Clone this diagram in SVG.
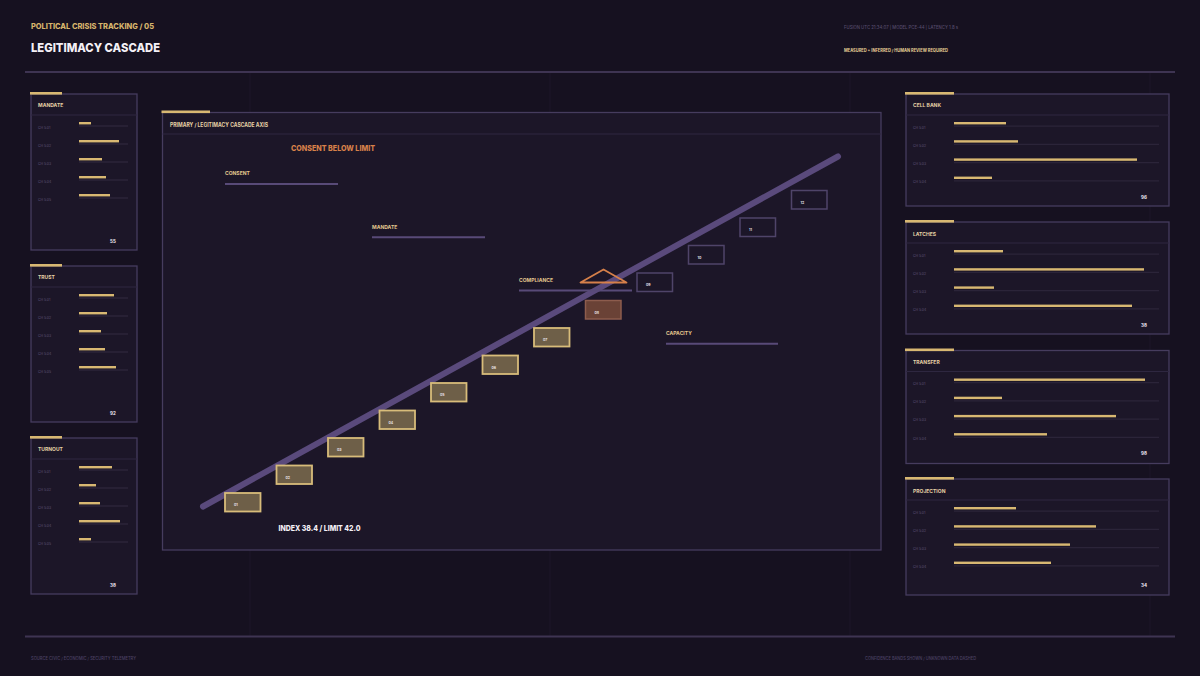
<svg xmlns="http://www.w3.org/2000/svg" width="1200" height="676" viewBox="0 0 1200 676">
<defs>
<style>
.bg{fill:#161120}
.panel{fill:#1c1628;stroke:#463c5e;stroke-width:1.3}
.sep{stroke:#2e2740;stroke-width:1}
.acc{fill:#d8b872}
.ph{font-family:Inter,"Liberation Sans",sans-serif;font-weight:700;font-size:5px;fill:#e6d2a6}
.rl{font-family:Inter,"Liberation Sans",sans-serif;font-weight:500;font-size:3.4px;fill:#54496a}
.num{font-family:Inter,"Liberation Sans",sans-serif;font-weight:700;font-size:4.5px;fill:#f2ecf6}
.trk{stroke:#2b2439;stroke-width:1.3}
.bar{fill:#d8b872}
.grid{stroke:#1d1729;stroke-width:1}
.lbl{font-family:Inter,"Liberation Sans",sans-serif;font-weight:700;font-size:5px;fill:#e3c88e}
.lline{stroke:#584a78;stroke-width:2}
.boxa{fill:#6e5f48;stroke:#d8bc7a;stroke-width:1.8}
.boxw{fill:#6a4236;stroke:#8d5c4d;stroke-width:1.5}
.boxe{fill:#1c1628;stroke:#4f4469;stroke-width:1.5}
.bl{font-family:Inter,"Liberation Sans",sans-serif;font-weight:600;font-size:3.6px;fill:#f0e8f0}
</style>
</defs>
<rect class="bg" x="0" y="0" width="1200" height="676"/>
<g id="grid">
<line class="grid" x1="250" y1="73" x2="250" y2="636"/>
<line class="grid" x1="550" y1="73" x2="550" y2="636"/>
<line class="grid" x1="850" y1="73" x2="850" y2="636"/>
<line class="grid" x1="1150" y1="73" x2="1150" y2="636"/>
</g>
<g id="header">
<text x="31" y="29" font-family="Inter,'Liberation Sans',sans-serif" font-weight="800" font-size="7.5" fill="#d6b46c" textLength="123" lengthAdjust="spacingAndGlyphs">POLITICAL CRISIS TRACKING / 05</text>
<text x="31" y="51.5" font-family="Inter,'Liberation Sans',sans-serif" font-weight="800" font-size="12" fill="#f4f0f6" textLength="129" lengthAdjust="spacingAndGlyphs">LEGITIMACY CASCADE</text>
<text x="844" y="29" font-family="Inter,'Liberation Sans',sans-serif" font-weight="500" font-size="4.3" fill="#564c6c" textLength="114" lengthAdjust="spacingAndGlyphs">FUSION UTC 21:34:07 | MODEL PCE-44 | LATENCY 1.8 s</text>
<text x="844" y="51.5" font-family="Inter,'Liberation Sans',sans-serif" font-weight="700" font-size="4.3" fill="#e6cf96" textLength="104" lengthAdjust="spacingAndGlyphs">MEASURED + INFERRED / HUMAN REVIEW REQUIRED</text>
<line x1="25" y1="72" x2="1175" y2="72" stroke="#3e3452" stroke-width="1.8"/>
</g>
<g id="footer">
<line x1="25" y1="636.5" x2="1175" y2="636.5" stroke="#3e3452" stroke-width="1.8"/>
<text x="31" y="660" font-family="Inter,'Liberation Sans',sans-serif" font-weight="500" font-size="4.2" fill="#4c4264" textLength="105" lengthAdjust="spacingAndGlyphs">SOURCE CIVIC / ECONOMIC / SECURITY TELEMETRY</text>
<text x="865" y="660" font-family="Inter,'Liberation Sans',sans-serif" font-weight="500" font-size="4.2" fill="#4c4264" textLength="111" lengthAdjust="spacingAndGlyphs">CONFIDENCE BANDS SHOWN / UNKNOWN DATA DASHED</text>
</g>

<!-- Left panels -->
<g id="panel-mandate">
<rect class="panel" x="31" y="94" width="106" height="156"/>
<rect class="acc" x="30" y="92" width="32" height="2.6"/>
<line class="sep" x1="31" y1="115" x2="137" y2="115"/>
<text class="ph" x="38" y="107">MANDATE</text>
<text class="rl" x="38" y="129">CH 5.01</text><line class="trk" x1="79" y1="126" x2="128" y2="126"/><rect class="bar" x="79" y="122" width="12" height="2.4"/>
<text class="rl" x="38" y="147">CH 5.02</text><line class="trk" x1="79" y1="144" x2="128" y2="144"/><rect class="bar" x="79" y="140" width="40" height="2.4"/>
<text class="rl" x="38" y="165">CH 5.03</text><line class="trk" x1="79" y1="162" x2="128" y2="162"/><rect class="bar" x="79" y="158" width="23" height="2.4"/>
<text class="rl" x="38" y="183">CH 5.04</text><line class="trk" x1="79" y1="180" x2="128" y2="180"/><rect class="bar" x="79" y="176" width="27" height="2.4"/>
<text class="rl" x="38" y="201">CH 5.05</text><line class="trk" x1="79" y1="198" x2="128" y2="198"/><rect class="bar" x="79" y="194" width="31" height="2.4"/>
<text class="num" x="110" y="242.5">55</text>
</g>
<g id="panel-trust">
<rect class="panel" x="31" y="266" width="106" height="156"/>
<rect class="acc" x="30" y="264" width="32" height="2.6"/>
<line class="sep" x1="31" y1="287" x2="137" y2="287"/>
<text class="ph" x="38" y="279">TRUST</text>
<text class="rl" x="38" y="301">CH 5.01</text><line class="trk" x1="79" y1="298" x2="128" y2="298"/><rect class="bar" x="79" y="294" width="35" height="2.4"/>
<text class="rl" x="38" y="319">CH 5.02</text><line class="trk" x1="79" y1="316" x2="128" y2="316"/><rect class="bar" x="79" y="312" width="28" height="2.4"/>
<text class="rl" x="38" y="337">CH 5.03</text><line class="trk" x1="79" y1="334" x2="128" y2="334"/><rect class="bar" x="79" y="330" width="22" height="2.4"/>
<text class="rl" x="38" y="355">CH 5.04</text><line class="trk" x1="79" y1="352" x2="128" y2="352"/><rect class="bar" x="79" y="348" width="26" height="2.4"/>
<text class="rl" x="38" y="373">CH 5.05</text><line class="trk" x1="79" y1="370" x2="128" y2="370"/><rect class="bar" x="79" y="366" width="37" height="2.4"/>
<text class="num" x="110" y="414.5">92</text>
</g>
<g id="panel-turnout">
<rect class="panel" x="31" y="438" width="106" height="156"/>
<rect class="acc" x="30" y="436" width="32" height="2.6"/>
<line class="sep" x1="31" y1="459" x2="137" y2="459"/>
<text class="ph" x="38" y="451">TURNOUT</text>
<text class="rl" x="38" y="473">CH 5.01</text><line class="trk" x1="79" y1="470" x2="128" y2="470"/><rect class="bar" x="79" y="466" width="33" height="2.4"/>
<text class="rl" x="38" y="491">CH 5.02</text><line class="trk" x1="79" y1="488" x2="128" y2="488"/><rect class="bar" x="79" y="484" width="17" height="2.4"/>
<text class="rl" x="38" y="509">CH 5.03</text><line class="trk" x1="79" y1="506" x2="128" y2="506"/><rect class="bar" x="79" y="502" width="21" height="2.4"/>
<text class="rl" x="38" y="527">CH 5.04</text><line class="trk" x1="79" y1="524" x2="128" y2="524"/><rect class="bar" x="79" y="520" width="41" height="2.4"/>
<text class="rl" x="38" y="545">CH 5.05</text><line class="trk" x1="79" y1="542" x2="128" y2="542"/><rect class="bar" x="79" y="538" width="12" height="2.4"/>
<text class="num" x="110" y="586.5">38</text>
</g>

<!-- Right panels -->
<g id="panel-cellbank">
<rect class="panel" x="906" y="94" width="263" height="112"/>
<rect class="acc" x="905" y="92" width="49" height="2.6"/>
<line class="sep" x1="906" y1="115" x2="1169" y2="115"/>
<text class="ph" x="913" y="107">CELL BANK</text>
<text class="rl" x="913" y="128.5">CH 5.01</text><line class="trk" x1="954" y1="126.2" x2="1159" y2="126.2"/><rect class="bar" x="954" y="122" width="52" height="2.4"/>
<text class="rl" x="913" y="146.7">CH 5.02</text><line class="trk" x1="954" y1="144.4" x2="1159" y2="144.4"/><rect class="bar" x="954" y="140.2" width="64" height="2.4"/>
<text class="rl" x="913" y="164.9">CH 5.03</text><line class="trk" x1="954" y1="162.6" x2="1159" y2="162.6"/><rect class="bar" x="954" y="158.4" width="183" height="2.4"/>
<text class="rl" x="913" y="183.1">CH 5.04</text><line class="trk" x1="954" y1="180.8" x2="1159" y2="180.8"/><rect class="bar" x="954" y="176.6" width="38" height="2.4"/>
<text class="num" x="1141" y="198.5">96</text>
</g>
<g id="panel-latches">
<rect class="panel" x="906" y="222" width="263" height="112"/>
<rect class="acc" x="905" y="220" width="49" height="2.6"/>
<line class="sep" x1="906" y1="243" x2="1169" y2="243"/>
<text class="ph" x="913" y="235.5">LATCHES</text>
<text class="rl" x="913" y="256.5">CH 5.01</text><line class="trk" x1="954" y1="254.2" x2="1159" y2="254.2"/><rect class="bar" x="954" y="250" width="49" height="2.4"/>
<text class="rl" x="913" y="274.7">CH 5.02</text><line class="trk" x1="954" y1="272.4" x2="1159" y2="272.4"/><rect class="bar" x="954" y="268.2" width="190" height="2.4"/>
<text class="rl" x="913" y="292.9">CH 5.03</text><line class="trk" x1="954" y1="290.6" x2="1159" y2="290.6"/><rect class="bar" x="954" y="286.4" width="40" height="2.4"/>
<text class="rl" x="913" y="311.1">CH 5.04</text><line class="trk" x1="954" y1="308.8" x2="1159" y2="308.8"/><rect class="bar" x="954" y="304.6" width="178" height="2.4"/>
<text class="num" x="1141" y="326.5">38</text>
</g>
<g id="panel-transfer">
<rect class="panel" x="906" y="350.5" width="263" height="113"/>
<rect class="acc" x="905" y="348.5" width="49" height="2.6"/>
<line class="sep" x1="906" y1="371.5" x2="1169" y2="371.5"/>
<text class="ph" x="913" y="364">TRANSFER</text>
<text class="rl" x="913" y="385">CH 5.01</text><line class="trk" x1="954" y1="382.7" x2="1159" y2="382.7"/><rect class="bar" x="954" y="378.5" width="191" height="2.4"/>
<text class="rl" x="913" y="403.2">CH 5.02</text><line class="trk" x1="954" y1="400.9" x2="1159" y2="400.9"/><rect class="bar" x="954" y="396.7" width="48" height="2.4"/>
<text class="rl" x="913" y="421.4">CH 5.03</text><line class="trk" x1="954" y1="419.1" x2="1159" y2="419.1"/><rect class="bar" x="954" y="414.9" width="162" height="2.4"/>
<text class="rl" x="913" y="439.6">CH 5.04</text><line class="trk" x1="954" y1="437.3" x2="1159" y2="437.3"/><rect class="bar" x="954" y="433.1" width="93" height="2.4"/>
<text class="num" x="1141" y="455">98</text>
</g>
<g id="panel-projection">
<rect class="panel" x="906" y="479" width="263" height="116"/>
<rect class="acc" x="905" y="477" width="49" height="2.6"/>
<line class="sep" x1="906" y1="500" x2="1169" y2="500"/>
<text class="ph" x="913" y="492.5">PROJECTION</text>
<text class="rl" x="913" y="513.5">CH 5.01</text><line class="trk" x1="954" y1="511.2" x2="1159" y2="511.2"/><rect class="bar" x="954" y="507" width="62" height="2.4"/>
<text class="rl" x="913" y="531.7">CH 5.02</text><line class="trk" x1="954" y1="529.4" x2="1159" y2="529.4"/><rect class="bar" x="954" y="525.2" width="142" height="2.4"/>
<text class="rl" x="913" y="549.9">CH 5.03</text><line class="trk" x1="954" y1="547.6" x2="1159" y2="547.6"/><rect class="bar" x="954" y="543.4" width="116" height="2.4"/>
<text class="rl" x="913" y="568.1">CH 5.04</text><line class="trk" x1="954" y1="565.8" x2="1159" y2="565.8"/><rect class="bar" x="954" y="561.6" width="97" height="2.4"/>
<text class="num" x="1141" y="587">34</text>
</g>

<!-- Main panel -->
<g id="main-panel">
<rect class="panel" x="162.5" y="112.5" width="718.5" height="437.5"/>
<rect class="acc" x="161.5" y="110.5" width="48.5" height="2.6"/>
<line class="sep" x1="162.5" y1="134" x2="881" y2="134"/>
<text x="170" y="127" font-family="Inter,'Liberation Sans',sans-serif" font-weight="700" font-size="5.5" fill="#e6d2a6" textLength="98" lengthAdjust="spacingAndGlyphs">PRIMARY / LEGITIMACY CASCADE AXIS</text>
<text x="291" y="150.5" font-family="Inter,'Liberation Sans',sans-serif" font-weight="800" font-size="8" fill="#d6804a" textLength="84" lengthAdjust="spacingAndGlyphs">CONSENT BELOW LIMIT</text>
<text x="278.5" y="530.5" font-family="Inter,'Liberation Sans',sans-serif" font-weight="800" font-size="8" fill="#f4f0f6" textLength="82" lengthAdjust="spacingAndGlyphs">INDEX 38.4 / LIMIT 42.0</text>
</g>

<g id="connectors">
<line x1="203" y1="506.5" x2="838" y2="156.5" stroke="#5a4a7c" stroke-width="6" stroke-linecap="round"/>
</g>

<g id="layer-labels">
<g id="lbl-consent"><text class="lbl" x="225" y="175">CONSENT</text><line class="lline" x1="225" y1="184" x2="338" y2="184"/></g>
<g id="lbl-mandate"><text class="lbl" x="372" y="228.5">MANDATE</text><line class="lline" x1="372" y1="237.3" x2="485" y2="237.3"/></g>
<g id="lbl-compliance"><text class="lbl" x="519" y="281.8">COMPLIANCE</text><line class="lline" x1="519" y1="290.5" x2="632" y2="290.5"/></g>
<g id="lbl-capacity"><text class="lbl" x="666" y="335">CAPACITY</text><line class="lline" x1="666" y1="343.7" x2="778" y2="343.7"/></g>
</g>

<g id="limit-marker">
<polygon points="603.5,269.5 580.5,282.5 626.5,282.5" fill="none" stroke="#d6804a" stroke-width="1.8" stroke-linejoin="round"/>
</g>

<g id="step-01"><rect class="boxa" x="225" y="493" width="35.5" height="18.5"/><text class="bl" x="234" y="506">01</text></g>
<g id="step-02"><rect class="boxa" x="276.5" y="465.5" width="35.5" height="18.5"/><text class="bl" x="285.5" y="478.5">02</text></g>
<g id="step-03"><rect class="boxa" x="328" y="438" width="35.5" height="18.5"/><text class="bl" x="337" y="451">03</text></g>
<g id="step-04"><rect class="boxa" x="379.5" y="410.5" width="35.5" height="18.5"/><text class="bl" x="388.5" y="423.5">04</text></g>
<g id="step-05"><rect class="boxa" x="431" y="383" width="35.5" height="18.5"/><text class="bl" x="440" y="396">05</text></g>
<g id="step-06"><rect class="boxa" x="482.5" y="355.5" width="35.5" height="18.5"/><text class="bl" x="491.5" y="368.5">06</text></g>
<g id="step-07"><rect class="boxa" x="534" y="328" width="35.5" height="18.5"/><text class="bl" x="543" y="341">07</text></g>
<g id="step-08"><rect class="boxw" x="585.5" y="300.5" width="35.5" height="18.5"/><text class="bl" x="594.5" y="313.5">08</text></g>
<g id="step-09"><rect class="boxe" x="637" y="273" width="35.5" height="18.5"/><text class="bl" x="646" y="286">09</text></g>
<g id="step-10"><rect class="boxe" x="688.5" y="245.5" width="35.5" height="18.5"/><text class="bl" x="697.5" y="258.5">10</text></g>
<g id="step-11"><rect class="boxe" x="740" y="218" width="35.5" height="18.5"/><text class="bl" x="749" y="231">11</text></g>
<g id="step-12"><rect class="boxe" x="791.5" y="190.5" width="35.5" height="18.5"/><text class="bl" x="800.5" y="203.5">12</text></g>
</svg>
